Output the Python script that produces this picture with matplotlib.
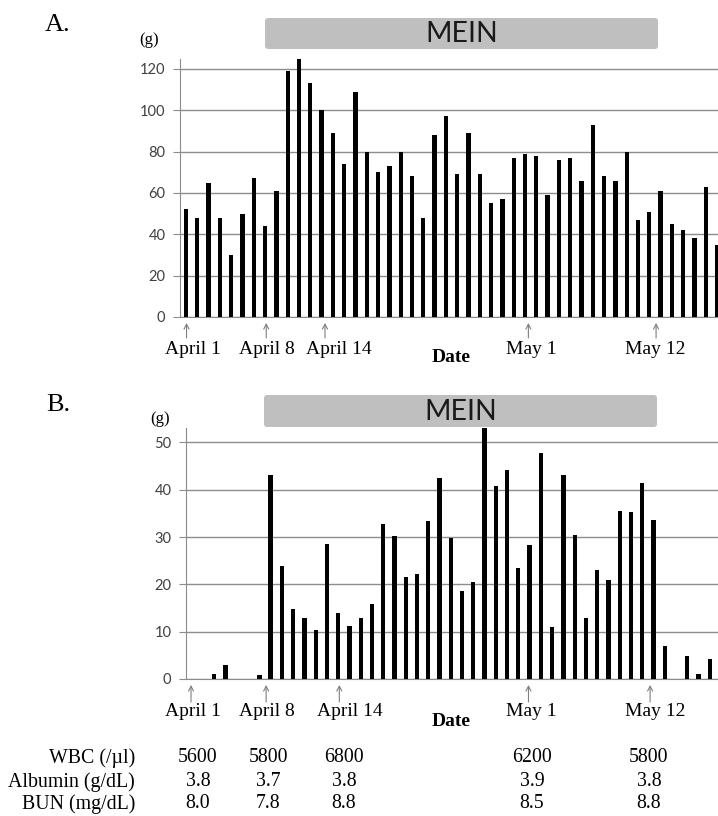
import matplotlib
matplotlib.use('Agg')
import matplotlib.pyplot as plt
from matplotlib.patches import FancyBboxPatch

# daily intake (g), day 0 = April 1
intake_a = [52, 48, 65, 48, 30, 50, 67, 44, 61, 119, 125, 113, 100, 89, 74, 109,
            80, 70, 73, 80, 68, 48, 88, 97, 69, 89, 69, 55, 57, 77, 79, 78, 59,
            76, 77, 66, 93, 68, 66, 80, 47, 51, 61, 45, 42, 38, 63, 35]
intake_b = [0, 0, 1.1, 3.0, 0, 0, 0.8, 43.2, 23.9, 14.9, 13.0, 10.4, 28.6, 14.0,
            11.1, 12.8, 15.9, 32.7, 30.3, 21.5, 22.1, 33.4, 42.5, 29.8, 18.6,
            20.5, 53.5, 40.8, 44.1, 23.4, 28.4, 47.7, 10.9, 43.2, 30.5, 12.8,
            23.1, 21.0, 35.6, 35.3, 41.4, 33.7, 6.9, 0, 4.8, 1.1, 4.3]

date_labels = ['April 1', 'April 8', 'April 14', 'May 1', 'May 12']
arrow_days_a = [0.05, 7.1, 12.3, 30.3, 41.6]
arrow_days_b = [-0.07, 6.6, 13.1, 29.9, 40.7]

row_labels = ['WBC (/\u00b5l)', 'Albumin (g/dL)', 'BUN (mg/dL)']
wbc = ['5600', '5800', '6800', '6200', '5800']
albumin = ['3.8', '3.7', '3.8', '3.9', '3.8']
bun = ['8.0', '7.8', '8.8', '8.5', '8.8']

W, H = 718, 816
SERIF = 'Liberation Serif'
GRID = '#8c8c8c'

fig = plt.figure(figsize=(W / 100, H / 100), dpi=100)


def rect(l, t, r, b):
    return [l / W, 1 - b / H, (r - l) / W, (b - t) / H]


def style(ax, values, ymax, step, xlim):
    days = list(range(len(values)))
    ax.bar(days, values, width=0.38, color='black', zorder=3)
    ax.set_xlim(*xlim)
    ax.set_ylim(0, ymax)
    ax.set_yticks(range(0, int(ymax) + 1, step))
    ax.yaxis.grid(True, color=GRID, lw=1)
    ax.set_axisbelow(True)
    for s in ['top', 'right']:
        ax.spines[s].set_visible(False)
    for s in ['left', 'bottom']:
        ax.spines[s].set_color(GRID)
    ax.tick_params(axis='y', length=5, color=GRID, labelsize=10.5,
                   labelcolor='#404040', pad=5.5)
    ax.set_xticks([])
    for lab in ax.get_yticklabels():
        lab.set_fontfamily('Lato')


axA = fig.add_axes(rect(180, 59, 718, 317))
style(axA, intake_a, 124.8, 20, (-0.53, 47.08))
axB = fig.add_axes(rect(186, 428.3, 718, 679))
style(axB, intake_b, 53, 10, (-0.515, 46.73))

# overlay in pixel coordinates for the annotations
ov = fig.add_axes([0, 0, 1, 1])
ov.set_xlim(0, W)
ov.set_ylim(H, 0)
ov.axis('off')
ov.patch.set_alpha(0)

fig.canvas.draw()

panels = [
    (axA, 'A.', 25, (149, 40), (265, 18, 658, 49), arrow_days_a, (338, 323),
     [192.5, 267, 339, 531, 655], 349, 357),
    (axB, 'B.', 405, (160, 419), (264, 395, 657, 427), arrow_days_b, (702, 685),
     [192.5, 267, 350, 531, 655], 712, 721),
]
for ax, letter, ly, gpos, box, adays, (ay0, ay1), lx, laby, datey in panels:
    ov.text(58, ly, letter, family=SERIF, fontsize=19, ha='center', va='center')
    ov.text(gpos[0], gpos[1], '(g)', family=SERIF, fontsize=12,
            ha='center', va='center')
    l, t, r, b = box
    ov.add_patch(FancyBboxPatch((l, t), r - l, b - t,
                                boxstyle='round,pad=0,rounding_size=3',
                                fc='#bfbfbf', ec='none'))
    ov.text((l + r) / 2, (t + b) / 2 + 1, 'MEIN', family='Lato',
            fontsize=20.5, ha='center', va='center', color='#1a1a1a')
    for d in adays:
        xp = ax.transData.transform((d, 0))[0]
        ov.annotate('', xy=(xp, ay1), xytext=(xp, ay0),
                    arrowprops=dict(arrowstyle='->,head_length=0.35,head_width=0.18',
                                    color='#7f7f7f', lw=0.8,
                                    shrinkA=0, shrinkB=0))
    for x, txt in zip(lx, date_labels):
        ov.text(x, laby, txt, family=SERIF, fontsize=14, ha='center', va='center')
    ov.text(451, datey, 'Date', family=SERIF, fontsize=14, weight='bold',
            ha='center', va='center')

# lab values table
col_x = [198, 268, 344, 532, 649]
row_y = [758, 782, 804]
for y, lab, vals in zip(row_y, row_labels, [wbc, albumin, bun]):
    ov.text(135, y, lab, family=SERIF, fontsize=14.3, ha='right', va='center')
    for x, v in zip(col_x, vals):
        ov.text(x, y, v, family=SERIF, fontsize=14.3, ha='center', va='center')

fig.savefig('out.png', dpi=100)
